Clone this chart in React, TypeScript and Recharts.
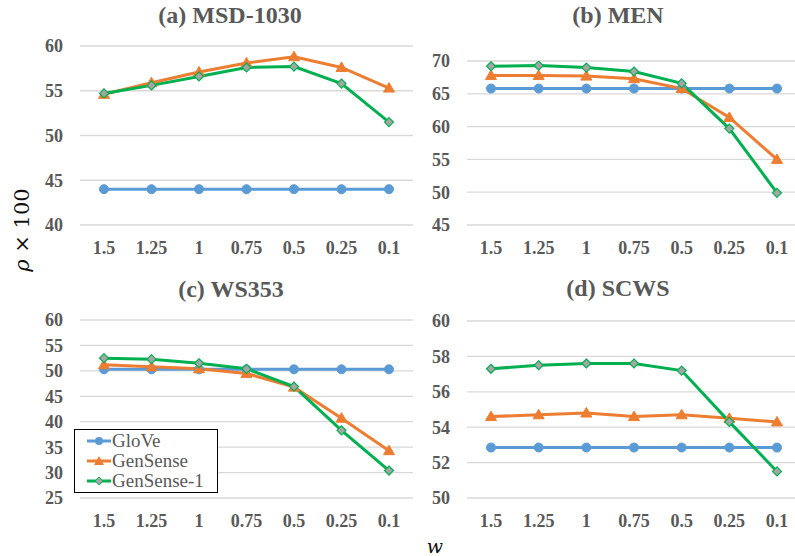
import React from 'react';
import { LineChart, Line, XAxis, YAxis, CartesianGrid } from 'recharts';

// w values on the category axis
const categories = ['1.5', '1.25', '1', '0.75', '0.5', '0.25', '0.1'];

// (a) MSD-1030
const msdGlove = [44.0, 44.0, 44.0, 44.0, 44.0, 44.0, 44.0];
const msdGenSense = [54.6, 55.9, 57.1, 58.1, 58.8, 57.6, 55.3];
const msdGenSense1 = [54.7, 55.6, 56.6, 57.6, 57.7, 55.8, 51.5];
const msdTicks = [40, 45, 50, 55, 60];

// (b) MEN
const menGlove = [65.8, 65.8, 65.8, 65.8, 65.8, 65.8, 65.8];
const menGenSense = [67.8, 67.8, 67.7, 67.3, 65.8, 61.4, 55.0];
const menGenSense1 = [69.2, 69.3, 69.0, 68.4, 66.6, 59.7, 49.9];
const menTicks = [45, 50, 55, 60, 65, 70];

// (c) WS353
const wsGlove = [50.3, 50.3, 50.3, 50.3, 50.3, 50.3, 50.3];
const wsGenSense = [51.2, 50.8, 50.4, 49.5, 46.8, 40.7, 34.3];
const wsGenSense1 = [52.5, 52.3, 51.5, 50.4, 46.9, 38.3, 30.4];
const wsTicks = [25, 30, 35, 40, 45, 50, 55, 60];

// (d) SCWS
const scwsGlove = [52.85, 52.85, 52.85, 52.85, 52.85, 52.85, 52.85];
const scwsGenSense = [54.6, 54.7, 54.8, 54.6, 54.7, 54.5, 54.3];
const scwsGenSense1 = [57.3, 57.5, 57.6, 57.6, 57.2, 54.3, 51.5];
const scwsTicks = [50, 52, 54, 56, 58, 60];

const BLUE = '#5B9BD5';
const ORANGE = '#ED7D31';
const GREEN = '#00B050';
const GRAY = '#595959';
const SERIF = '"Liberation Serif", "Times New Roman", serif';

const buildRows = (glove: number[], gen: number[], gen1: number[]) =>
  categories.map((w, i) => ({ w, glove: glove[i], gen: gen[i], gen1: gen1[i] }));

const circleDot = (p: any) => {
  if (p.cx == null || p.cy == null) return <g key={p.index} />;
  return <circle key={p.index} cx={p.cx} cy={p.cy} r={4.5} fill={BLUE} stroke={BLUE} />;
};

const triangleDot = (p: any) => {
  if (p.cx == null || p.cy == null) return <g key={p.index} />;
  const { cx, cy } = p;
  return (
    <path
      key={p.index}
      d={`M${cx},${cy - 5.5} L${cx + 5.5},${cy + 4} L${cx - 5.5},${cy + 4} Z`}
      fill={ORANGE}
      stroke={ORANGE}
    />
  );
};

const diamondDot = (p: any) => {
  if (p.cx == null || p.cy == null) return <g key={p.index} />;
  const { cx, cy } = p;
  return (
    <path
      key={p.index}
      d={`M${cx},${cy - 4.5} L${cx + 4.5},${cy} L${cx},${cy + 4.5} L${cx - 4.5},${cy} Z`}
      fill="#A5A5A5"
      stroke={GREEN}
      strokeWidth={1.2}
    />
  );
};

interface PanelProps {
  title: string;
  titleX: number;
  titleY: number;
  left: number;
  top: number;
  width: number;
  height: number;
  marginTop: number;
  yWidth: number;
  padLeft: number;
  padRight: number;
  ticks: number[];
  rows: { w: string; glove: number; gen: number; gen1: number }[];
}

const tickStyle = { fill: GRAY, fontSize: 18, fontWeight: 'bold', fontFamily: SERIF };

const Panel: React.FC<PanelProps> = (props) => {
  const { ticks } = props;
  return (
    <>
      <div
        style={{
          position: 'absolute',
          left: props.titleX - 150,
          top: props.titleY - 14,
          width: 300,
          textAlign: 'center',
          fontFamily: SERIF,
          fontWeight: 'bold',
          fontSize: 24,
          lineHeight: '28px',
          color: GRAY,
        }}
      >
        {props.title}
      </div>
      <div style={{ position: 'absolute', left: props.left, top: props.top }}>
        <LineChart
          width={props.width}
          height={props.height}
          data={props.rows}
          margin={{ top: props.marginTop, right: 0, left: 0, bottom: 0 }}
        >
          <CartesianGrid vertical={false} stroke="#D9D9D9" strokeWidth={1.3} />
          <XAxis
            dataKey="w"
            axisLine={false}
            tickLine={false}
            tickSize={0}
            tickMargin={16}
            height={35}
            interval={0}
            padding={{ left: props.padLeft, right: props.padRight }}
            tick={tickStyle}
          />
          <YAxis
            type="number"
            width={props.yWidth}
            domain={[ticks[0], ticks[ticks.length - 1]]}
            ticks={ticks}
            interval={0}
            allowDataOverflow
            axisLine={false}
            tickLine={false}
            tickSize={0}
            tickMargin={17}
            tick={tickStyle}
          />
          <Line dataKey="glove" stroke={BLUE} strokeWidth={3} dot={circleDot} isAnimationActive={false} />
          <Line dataKey="gen" stroke={ORANGE} strokeWidth={3} dot={triangleDot} isAnimationActive={false} />
          <Line dataKey="gen1" stroke={GREEN} strokeWidth={3} dot={diamondDot} isAnimationActive={false} />
        </LineChart>
      </div>
    </>
  );
};

const legendItems = [
  { name: 'GloVe', color: BLUE, shape: 'circle' },
  { name: 'GenSense', color: ORANGE, shape: 'triangle' },
  { name: 'GenSense-1', color: GREEN, shape: 'diamond' },
];

const LegendBox = () => (
  <div
    style={{
      position: 'absolute',
      left: 74,
      top: 429,
      width: 142,
      height: 62,
      border: '1px solid #000',
      background: '#fff',
      fontFamily: SERIF,
      fontSize: 19,
      color: GRAY,
    }}
  >
    {legendItems.map((it, i) => (
      <div key={it.name} style={{ position: 'absolute', left: 12, top: 1 + i * 20, height: 20, display: 'flex', alignItems: 'center' }}>
        <svg width={24} height={12} style={{ marginRight: 1 }}>
          <line x1={0} y1={6} x2={24} y2={6} stroke={it.color} strokeWidth={3} />
          {it.shape === 'circle' && <circle cx={12} cy={6} r={4} fill={BLUE} />}
          {it.shape === 'triangle' && <path d="M12,1 L17,10 L7,10 Z" fill={ORANGE} />}
          {it.shape === 'diamond' && <path d="M12,2 L16,6 L12,10 L8,6 Z" fill="#A5A5A5" stroke={GREEN} />}
        </svg>
        <span style={{ lineHeight: '20px' }}>{it.name}</span>
      </div>
    ))}
  </div>
);

export default function App() {
  return (
    <div style={{ position: 'absolute', left: 0, top: 0, width: 795, height: 556, background: '#fff', overflow: 'hidden' }}>
      <Panel
        title="(a) MSD-1030"
        titleX={230}
        titleY={15}
        left={0}
        top={0}
        width={413}
        height={260}
        marginTop={46}
        yWidth={80}
        padLeft={24}
        padRight={24}
        ticks={msdTicks}
        rows={buildRows(msdGlove, msdGenSense, msdGenSense1)}
      />
      <Panel
        title="(b) MEN"
        titleX={618}
        titleY={15}
        left={400}
        top={0}
        width={395}
        height={260}
        marginTop={61}
        yWidth={67}
        padLeft={24}
        padRight={18}
        ticks={menTicks}
        rows={buildRows(menGlove, menGenSense, menGenSense1)}
      />
      <Panel
        title="(c) WS353"
        titleX={231}
        titleY={289}
        left={0}
        top={270}
        width={413}
        height={263}
        marginTop={50}
        yWidth={80}
        padLeft={24}
        padRight={24}
        ticks={wsTicks}
        rows={buildRows(wsGlove, wsGenSense, wsGenSense1)}
      />
      <Panel
        title="(d) SCWS"
        titleX={618}
        titleY={288}
        left={400}
        top={270}
        width={395}
        height={263}
        marginTop={51}
        yWidth={67}
        padLeft={24}
        padRight={18}
        ticks={scwsTicks}
        rows={buildRows(scwsGlove, scwsGenSense, scwsGenSense1)}
      />
      <LegendBox />
      <div
        style={{
          position: 'absolute',
          left: 22 - 60,
          top: 230 - 14,
          width: 120,
          height: 28,
          lineHeight: '28px',
          textAlign: 'center',
          transform: 'rotate(-90deg)',
          fontFamily: '"DejaVu Serif", serif',
          fontSize: 21,
          color: '#111',
          whiteSpace: 'nowrap',
        }}
      >
        <i>ρ</i> × 100
      </div>
      <div
        style={{
          position: 'absolute',
          left: 420,
          top: 535,
          width: 30,
          textAlign: 'center',
          fontFamily: '"DejaVu Serif", serif',
          fontStyle: 'italic',
          fontSize: 19,
          color: '#111',
        }}
      >
        w
      </div>
    </div>
  );
}
